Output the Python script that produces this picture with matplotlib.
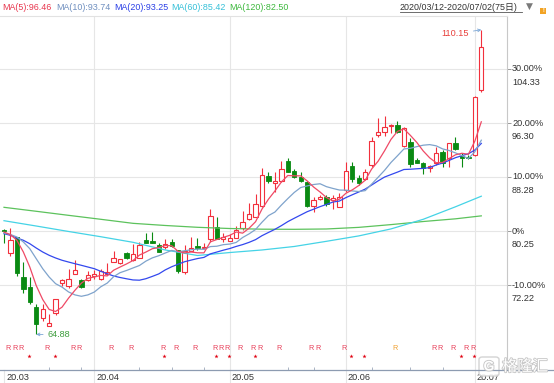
import numpy as np
import pandas as pd
import matplotlib
matplotlib.use('Agg')
import matplotlib.pyplot as plt
import matplotlib.patheffects as pe
from matplotlib.patches import FancyBboxPatch, Rectangle
from matplotlib.lines import Line2D

plt.rcParams['font.family'] = ['Liberation Sans', 'Noto Sans CJK SC', 'DejaVu Sans']

# ---------------- data ----------------
opens = [80.45, 76.94, 79.31, 73.46, 71.93, 68.91, 67.28, 66.13, 68.02, 72.45,
         72.08, 73.82, 73.01, 72.92, 73.56, 73.07, 73.90, 75.69, 75.45, 77.03,
         75.94, 76.19, 78.91, 78.69, 78.10, 77.92, 78.66, 77.38, 74.20, 77.35,
         78.02, 77.68, 79.06, 80.89, 79.06, 78.76, 79.25, 80.65, 82.03, 82.38,
         83.97, 88.42, 87.43, 87.72, 90.70, 89.17, 88.32, 87.58, 84.01, 85.01,
         85.35, 84.86, 83.86, 86.34, 89.91, 88.08, 87.98, 90.06, 94.52, 94.96,
         95.85, 96.00, 92.88, 93.52, 90.80, 90.40, 89.57, 90.31, 92.03, 91.05,
         93.28, 91.40, 91.32, 91.54, 101.20]
highs = [80.55, 80.65, 79.39, 75.64, 73.41, 69.40, 69.36, 67.92, 70.15, 73.19,
         74.65, 75.90, 73.12, 74.26, 74.50, 74.65, 75.54, 77.32, 76.16, 77.18,
         78.27, 78.66, 79.90, 80.05, 78.51, 79.02, 79.02, 77.50, 78.10, 79.40,
         79.26, 78.42, 83.52, 82.29, 79.90, 79.76, 80.99, 83.22, 84.37, 85.70,
         89.57, 89.01, 89.01, 90.70, 91.10, 89.42, 89.06, 87.68, 85.35, 85.60,
         85.60, 85.60, 85.85, 90.55, 90.55, 88.57, 89.46, 94.17, 96.99, 97.38,
         96.08, 96.64, 95.70, 94.03, 91.05, 90.55, 90.06, 92.78, 92.29, 93.40,
         94.17, 91.89, 91.54, 100.24, 110.15]
lows = [78.50, 76.50, 73.56, 71.04, 69.40, 64.88, 66.92, 66.06, 67.84, 72.15,
        71.82, 73.80, 71.78, 72.82, 73.16, 72.97, 73.86, 75.69, 75.42, 76.16,
        75.79, 76.19, 78.40, 78.47, 77.06, 77.58, 77.87, 73.96, 73.93, 77.28,
        77.43, 77.58, 78.66, 78.99, 78.66, 78.69, 79.21, 80.40, 81.88, 82.33,
        83.89, 87.34, 86.09, 87.53, 89.02, 88.08, 87.53, 83.89, 83.12, 84.86,
        83.97, 83.52, 83.82, 86.09, 87.58, 87.09, 87.83, 89.81, 94.26, 94.37,
        94.81, 94.77, 92.73, 89.81, 90.40, 88.72, 89.06, 90.06, 89.81, 89.81,
        92.29, 89.81, 91.02, 91.47, 100.95]
closes = [80.25, 78.91, 74.01, 71.59, 69.70, 66.43, 68.61, 66.62, 70.10, 72.92,
          73.07, 74.50, 71.93, 73.67, 73.90, 74.26, 74.10, 76.19, 76.04, 76.19,
          76.79, 78.17, 78.42, 78.51, 77.10, 78.27, 77.98, 74.28, 77.35, 77.77,
          77.68, 77.92, 82.48, 79.06, 79.40, 79.17, 80.40, 81.63, 82.73, 84.22,
          88.57, 87.72, 87.72, 89.42, 89.06, 88.32, 87.72, 83.97, 84.86, 85.35,
          84.22, 85.11, 85.35, 89.21, 87.93, 87.43, 89.06, 93.67, 95.01, 95.66,
          95.93, 95.01, 95.51, 90.21, 90.40, 89.57, 89.91, 91.89, 90.40, 93.28,
          92.39, 91.05, 91.10, 100.21, 107.64]

ma5_head = [80.10, 79.70, 78.87, 77.13]
ma10_head = [79.95, 79.73, 79.36, 78.62, 77.62, 76.13, 74.65, 73.41, 72.42]
ma20_head = [79.85, 79.61, 79.21, 78.87, 78.36, 77.72, 77.13, 76.64, 76.24, 75.90,
             75.64, 75.39, 75.15, 74.90, 74.65, 74.26, 73.90, 73.56, 73.34]
ma_long_idx = [0, 5, 10, 15, 20, 25, 30, 35, 40, 45, 50, 55, 60, 65, 70, 74]
ma60_vals = [81.78, 80.99, 80.18, 79.40, 78.57, 77.43, 76.61, 77.05, 77.43, 77.95,
             78.72, 79.52, 80.56, 81.99, 83.85, 85.42]
ma120_vals = [83.77, 83.18, 82.58, 81.99, 81.39, 81.07, 80.80, 80.62, 80.52, 80.50,
              80.55, 80.79, 81.20, 81.66, 82.06, 82.50]

level_prices = [72.22, 80.25, 88.28, 96.30, 104.33]
level_pcts = ['-10.00%', '0%', '10.00%', '20.00%', '30.00%']

month_idx = [0, 14, 35, 53, 73]
month_labels = ['20.03', '20.04', '20.05', '20.06', '20.07']
minor_tick_idx = [7, 12, 21, 26, 31, 44, 48, 57, 63, 68]

r_idx = [0, 1, 2, 6, 10, 11, 16, 19, 24, 26, 29, 32, 33, 34, 36, 38, 39, 42,
         47, 48, 52, 60, 66, 67, 69, 71, 72]
r_orange = [60]
star_idx = [3, 7, 24, 32, 34, 38, 53, 55, 70, 72]

ma_names = ['MA(5)', 'MA(10)', 'MA(20)', 'MA(60)', 'MA(120)']
ma_last = [96.46, 93.74, 93.25, 85.42, 82.50]
date_range = '2020/03/12-2020/07/02(75日)'
high_value = 110.15
low_value = 64.88

# ---------------- styles ----------------
W, H = 554, 383
RED = '#f2303c'
GREEN = '#0a8a12'
ma_colors = ['#ef4a66', '#7fa3cc', '#3348ee', '#45d3e6', '#5cc25c']
hdr_colors = ['#e8354d', '#6f8fbf', '#2a3fe6', '#35c0d8', '#3cb83c']
GRID = '#e6e6e6'

fig = plt.figure(figsize=(W / 100, H / 100), dpi=100)
fig.patch.set_facecolor('white')
ax = fig.add_axes([0, (H - 370) / H, 507 / W, 354 / H])
ax.set_facecolor('white')

step = 6.45
x0 = 4.0
ax.set_xlim((0 - x0) / step, (507 - x0) / step)
ref = 80.25
ppx = 8.025 / 54.0
ax.set_ylim(ref - 139 * ppx, ref + 215 * ppx)

# grid
for p in level_prices:
    ax.axhline(p, color=GRID, lw=0.8, zorder=0)
for i in month_idx[1:]:
    ax.axvline(i, color=GRID, lw=0.8, zorder=0)
for i in month_idx:
    ax.plot([i, i], [0, -13 / 354], transform=ax.get_xaxis_transform(),
            color=GRID, lw=0.8, clip_on=False, zorder=0)

# minor ticks on bottom axis
ax.vlines(minor_tick_idx, 0, 3 / 354, transform=ax.get_xaxis_transform(),
          color='#aab4c4', lw=0.7)

# candles
o = np.array(opens); h = np.array(highs); l = np.array(lows); c = np.array(closes)
x = np.arange(len(c))
up = c >= o
bw = 0.68
top = np.maximum(o, c); bot = np.minimum(o, c)
ax.vlines(x[up], top[up], h[up], color=RED, lw=0.8, zorder=2)
ax.vlines(x[up], l[up], bot[up], color=RED, lw=0.8, zorder=2)
hgt = np.maximum(top - bot, 0.05)
ax.bar(x[up], hgt[up], bottom=bot[up], width=bw, facecolor='white',
       edgecolor=RED, linewidth=0.8, zorder=2)
ax.vlines(x[~up], l[~up], h[~up], color=GREEN, lw=0.8, zorder=2)
ax.bar(x[~up], hgt[~up], bottom=bot[~up], width=bw, facecolor=GREEN,
       edgecolor=GREEN, linewidth=0.6, zorder=2)

# moving averages
cs = pd.Series(closes)
ma5 = cs.rolling(5).mean().values
ma5[:len(ma5_head)] = ma5_head
ma10 = cs.rolling(10).mean().values
ma10[:len(ma10_head)] = ma10_head
ma20 = cs.rolling(20).mean().values
ma20[:len(ma20_head)] = ma20_head
ax.plot(ma_long_idx, ma120_vals, color=ma_colors[4], lw=0.9, zorder=3)
ax.plot(ma_long_idx, ma60_vals, color=ma_colors[3], lw=0.9, zorder=3)
ax.plot(x, ma20, color=ma_colors[2], lw=0.9, zorder=3)
ax.plot(x, ma10, color=ma_colors[1], lw=0.9, zorder=3)
ax.plot(x, ma5, color=ma_colors[0], lw=0.9, zorder=3)

# spines / ticks
for s in ['left', 'bottom']:
    ax.spines[s].set_visible(False)
ax.spines['top'].set_color('#e2e2e2')
ax.spines['top'].set_linewidth(0.8)
ax.spines['right'].set_color('#c8c8c8')
ax.spines['right'].set_linewidth(0.8)
ax.set_xticks([])
ax.yaxis.tick_right()
ax.set_yticks(level_prices)
ax.set_yticklabels([])
ax.tick_params(axis='y', length=3, width=0.7, color='#9a9a9a')

# bottom axis line across the full width
fig.add_artist(Line2D([0, 1], [(H - 370) / H] * 2, color='#8d9bb1', lw=0.9))

# right labels
fs = 6.6
for p, lab in zip(level_prices, level_pcts):
    ax.annotate(lab, xy=(1, p), xycoords=('axes fraction', 'data'),
                xytext=(5, 0), textcoords='offset pixels', ha='left', va='center',
                fontsize=fs, color='#333333', annotation_clip=False)
    ax.annotate(f'{p:.2f}', xy=(1, p), xycoords=('axes fraction', 'data'),
                xytext=(5, -13.5), textcoords='offset pixels', ha='left', va='center',
                fontsize=fs, color='#333333', annotation_clip=False)

# month labels
for i, lab in zip(month_idx, month_labels):
    ax.annotate(lab, xy=(i, 0), xycoords=('data', 'axes fraction'),
                xytext=(2, -7), textcoords='offset pixels', ha='left', va='center',
                fontsize=fs, color='#333333', annotation_clip=False)

# high / low annotations
ih = int(np.argmax(h)); il = int(np.argmin(l))
ax.annotate(f'{high_value:.2f}', xy=(ih, h[ih]), xytext=(-12, -4), textcoords='offset pixels',
            ha='right', va='center', fontsize=fs, color='#e8403c',
            arrowprops=dict(arrowstyle='->', color='#7aa6d6', lw=0.6,
                            shrinkA=1, shrinkB=0, mutation_scale=5))
ax.annotate(f'{low_value:.2f}', xy=(il, l[il]), xytext=(11, 0), textcoords='offset pixels',
            ha='left', va='center', fontsize=fs, color='#3f9e3f',
            arrowprops=dict(arrowstyle='->', color='#7aa6d6', lw=0.6,
                            shrinkA=1, shrinkB=0, mutation_scale=5))

# R and star markers
ry = (370 - 349) / 354
sy = (370 - 355.7) / 354
xt = ax.get_xaxis_transform()
for i in r_idx:
    col = '#f0a030' if i in r_orange else '#e8405a'
    ax.text(i + 0.65, ry, 'R', transform=xt, ha='center', va='center',
            fontsize=5.2, color=col)
ax.scatter(np.array(star_idx) + 0.85, [sy] * len(star_idx), transform=xt,
           marker='*', s=10, color='#e00010', linewidths=0, zorder=4, clip_on=False)

# header
def fx(px):
    return px / W

def fy(py):
    return 1 - py / H

hx = [2, 56.5, 114, 171, 229]
for xx, nm, v, col in zip(hx, ma_names, ma_last, hdr_colors):
    fig.text(fx(xx), fy(7), f'{nm}:{v:.2f}', ha='left', va='center', fontsize=6.4, color=col)
fig.text(fx(400), fy(7), date_range, ha='left', va='center', fontsize=6.4, color='#333333')
fig.add_artist(Line2D([fx(400), fx(522)], [fy(12)] * 2, color='#555555', lw=0.6))
fig.text(fx(529), fy(6.5), '▼', ha='center', va='center', fontsize=6.5, color='#7a7a7a',
         family='DejaVu Sans')
fig.add_artist(Rectangle((fx(540), fy(14)), 6 / W, 6 / H, transform=fig.transFigure,
                         facecolor='#f2a324', edgecolor='none'))
fig.text(fx(543), fy(11), '!', ha='center', va='center', fontsize=4, color='white',
         weight='bold')

# watermark
fig.add_artist(FancyBboxPatch((fx(479), fy(376)), 20 / W, 19 / H,
                              boxstyle='round,pad=0,rounding_size=0.006',
                              transform=fig.transFigure, facecolor='white',
                              edgecolor='#cfcfcf', lw=1.0, alpha=0.9))
fig.text(fx(489), fy(366.5), 'G', ha='center', va='center', fontsize=10, color='white',
         weight='bold', path_effects=[pe.Stroke(linewidth=1.3, foreground='#c8c8c8'), pe.Normal()])
fig.text(fx(502), fy(366.5), '格隆汇', ha='left', va='center', fontsize=11, color='white',
         family=['Noto Sans CJK SC'],
         path_effects=[pe.Stroke(linewidth=1.3, foreground='#c8c8c8'), pe.Normal()])

fig.savefig('out.png', dpi=100, facecolor='white')
